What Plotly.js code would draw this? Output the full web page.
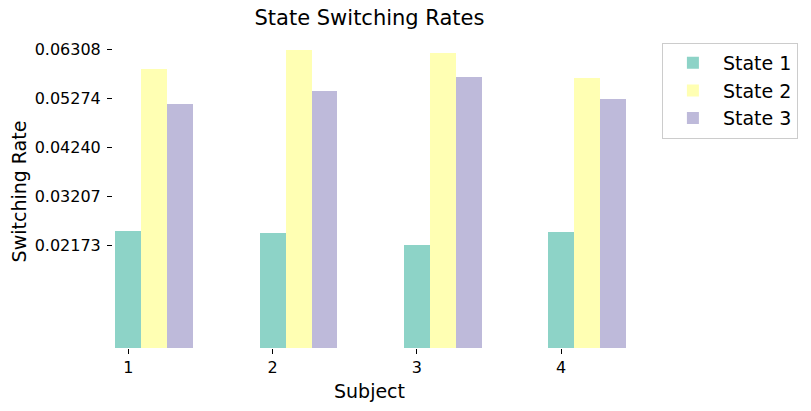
<!DOCTYPE html>
<html>
<head>
<meta charset="utf-8">
<script src="https://cdn.plot.ly/plotly-3.0.1.min.js"></script>
<style>html,body{margin:0;padding:0;background:#fff;}#chart{width:811px;height:411px;}</style>
</head>
<body>
<div id="chart"></div>
<script>
const subjects = [1, 2, 3, 4];
const stateNames = ["State 1", "State 2", "State 3"];
const state1 = [0.02479, 0.02437, 0.02173, 0.02458];
const state2 = [0.05897, 0.06308, 0.06234, 0.05707];
const state3 = [0.05158, 0.05432, 0.05728, 0.05264];
const yTickVals = [0.02173, 0.032068, 0.042405, 0.052743, 0.06308];
const yTickText = ["0.02173", "0.03207", "0.04240", "0.05274", "0.06308"];
const colors = ["#8dd3c7", "#ffffb3", "#bebada"];
const barWidth = 0.18;

const series = [state1, state2, state3];
const traces = series.map((vals, i) => ({
  type: "bar",
  name: stateNames[i],
  x: subjects.map(s => s + i * barWidth),
  y: vals,
  width: barWidth,
  marker: {color: colors[i], line: {width: 0}},
  hoverinfo: "skip"
}));

const font = {family: "DejaVu Sans, sans-serif", color: "#000"};
const layout = {
  width: 811, height: 411,
  margin: {l: 113, r: 185, t: 35, b: 63, pad: 0},
  paper_bgcolor: "#fff", plot_bgcolor: "#fff",
  font: Object.assign({}, font, {size: 16}),
  bargap: 0,
  barmode: "overlay",
  title: {
    text: "State Switching Rates",
    font: Object.assign({}, font, {size: 21}),
    x: 0.5, xref: "paper", xanchor: "center",
    y: 1 - 18 / 411, yref: "container", yanchor: "middle"
  },
  xaxis: {
    range: [0.894, 4.45],
    tickvals: subjects,
    ticktext: subjects.map(String),
    ticks: "outside", ticklen: 5, tickwidth: 1, tickcolor: "#000",
    showline: false, showgrid: false, zeroline: false,
    tickfont: Object.assign({}, font, {size: 16}),
    title: {text: "Subject", font: Object.assign({}, font, {size: 19}), standoff: 8},
    automargin: false
  },
  yaxis: {
    range: [0, 0.06623],
    tickvals: yTickVals,
    ticktext: yTickText,
    ticks: "outside", ticklen: 5, tickwidth: 1, tickcolor: "#000",
    ticklabelstandoff: 3,
    showline: false, showgrid: false, zeroline: false,
    tickfont: Object.assign({}, font, {size: 16}),
    title: {text: "Switching Rate", font: Object.assign({}, font, {size: 19}), standoff: 2},
    automargin: false
  },
  showlegend: true,
  legend: {
    x: 1.070, xanchor: "left",
    y: 0.975, yanchor: "top",
    font: Object.assign({}, font, {size: 19}),
    bordercolor: "#cccccc", borderwidth: 1,
    bgcolor: "rgba(255,255,255,0.8)",
    itemwidth: 50,
    tracegroupgap: 0
  }
};

Plotly.newPlot("chart", traces, layout, {displayModeBar: false, staticPlot: true});
</script>
</body>
</html>
